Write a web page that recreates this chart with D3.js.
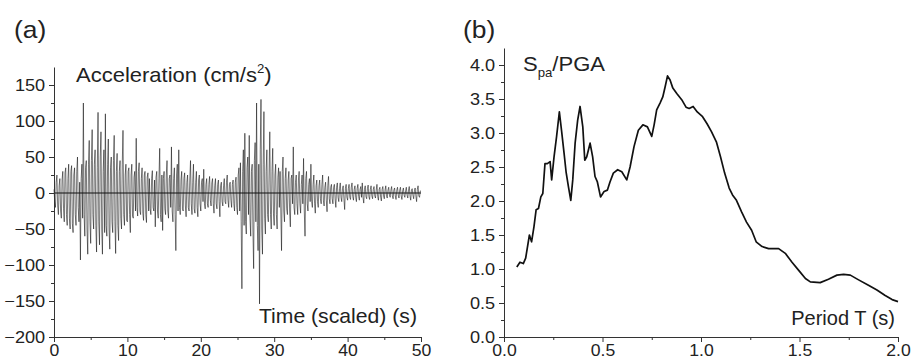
<!DOCTYPE html>
<html>
<head>
<meta charset="utf-8">
<script src="https://cdn.jsdelivr.net/npm/d3@7"></script>
<style>
  body { margin: 0; background: #fff; }
  svg { display: block; font-family: "Liberation Sans", Arial, sans-serif; }
  .axis path, .axis line { stroke: #333; }
  .axis text { fill: #222; font-size: 16.5px; font-family: "Liberation Sans", Arial, sans-serif; }
</style>
</head>
<body>
<div id="chart"></div>
<script>
// (a) accelerogram, sampled every 0.1 s, one row = 1 s
const accStep = 0.1;
const accValues = [
  5, -12, -20, 15, 25, -18, -30, 10, 20, -25,
  -35, 18, 30, -22, -40, 28, 35, -30, -45, 20,
  40, -35, -50, 30, 38, -42, -55, 25, 35, -30,
  -45, 30, 50, -20, -40, 15, -93, 20, 40, -35,
  125, -30, -60, 35, 45, -50, -85, 40, 73, -40,
  -70, 45, 88, -30, -50, 40, 60, -45, -82, 35,
  112, -40, -72, 50, 85, -50, -85, 30, 60, -55,
  110, -45, -60, 40, 75, -50, -78, 35, 50, -40,
  -55, 45, 80, -40, -84, 30, 55, -45, -66, 30,
  45, -35, -50, 40, 87, -30, -45, 25, 40, -38,
  -40, 30, 35, -30, -55, 25, 40, -32, -35, 22,
  30, -25, 76, -20, -32, 30, 42, -25, -30, 20,
  35, -28, -38, 25, 30, -30, -41, 22, 28, -25,
  20, -22, -30, 20, 31, -20, -25, 18, -47, 22,
  30, -25, -35, 20, 62, -30, -40, 25, -52, 20,
  30, -22, -30, 25, 45, -25, -35, 20, 25, -20,
  64, -25, -40, 20, 35, -30, -80, 25, 40, -25,
  60, -20, -30, 18, 30, -22, -25, 20, 28, -18,
  -33, 15, 25, -20, -25, 18, 45, -15, -30, 15,
  40, -22, -28, 15, 30, -20, -33, 18, 25, -15,
  -25, 15, 20, -12, 33, -15, -22, 12, 20, -15,
  -20, 12, 23, -10, -18, 14, 20, -15, -28, 10,
  20, -15, -22, 12, 18, -12, -33, 10, 15, -12,
  -18, 10, 20, -12, -15, 15, 25, -10, -20, 12,
  15, -10, -20, 12, 18, -15, -25, 15, 22, -20,
  -30, 25, 35, -25, 42, -40, -133, 30, 60, -45,
  83, -40, -57, 35, 50, -30, 80, -35, -60, 30,
  40, -50, -105, 45, 70, -40, 125, -45, -80, 40,
  -154, 60, 130, -50, -85, 40, 113, -35, -57, 30,
  60, -30, -40, 25, 85, -30, -50, 30, 62, -28,
  -45, 25, 40, -30, -50, 22, 35, -20, 30, -25,
  -80, 30, 50, -25, -40, 20, 35, -22, -30, 18,
  30, -25, -47, 20, 25, -15, 64, -20, -30, 15,
  25, -15, -30, 18, 30, -15, -28, 12, 25, -15,
  48, -25, -60, 20, 30, -15, -25, 12, 20, -12,
  40, -12, -20, 12, 25, -15, -28, 10, 18, -12,
  -20, 10, 18, -8, -15, 12, 25, -10, -18, 8,
  15, -10, -26, 10, 23, -8, -15, 8, 12, -8,
  -15, 8, 12, -8, -20, 8, 14, -6, -12, 6,
  14, -6, -12, 6, 10, -8, -23, 6, 12, -6,
  -10, 6, 12, -6, -9, 8, 14, -5, -10, 5,
  10, -6, -12, 6, 12, -5, -10, 5, 9, -6,
  14, -6, -14, 5, 10, -5, -8, 6, 11, -5,
  -9, 5, 10, -4, -8, 5, 9, -4, -7, 4,
  12, -5, -10, 5, 8, -6, -11, 5, 9, -4,
  -8, 4, 10, -4, -7, 4, 8, -3, -6, 4,
  9, -4, -8, 4, 7, -4, -9, 4, 8, -3,
  -7, 4, 8, -4, -9, 3, 7, -3, -6, 3,
  8, -3, -7, 4, 9, -4, -10, 4, 6, -3,
  -8, 3, 7, -4, -12, 5, 10, -4, -6, 3,
  2
];
const accTicks = [-200, -150, -100, -50, 0, 50, 100, 150];
const timeTicks = [0, 10, 20, 30, 40, 50];

// (b) normalised response spectrum
const periods = [0.065, 0.081, 0.098, 0.11, 0.129, 0.14, 0.152, 0.163, 0.175, 0.187,
  0.197, 0.208, 0.22, 0.234, 0.242, 0.254, 0.267, 0.281, 0.292, 0.305,
  0.315, 0.327, 0.339, 0.349, 0.361, 0.374, 0.386, 0.4, 0.41, 0.42,
  0.437, 0.45, 0.462, 0.474, 0.49, 0.508, 0.525, 0.538, 0.555, 0.577,
  0.598, 0.623, 0.64, 0.66, 0.682, 0.705, 0.728, 0.75, 0.762, 0.775,
  0.792, 0.806, 0.818, 0.83, 0.843, 0.857, 0.877, 0.902, 0.924, 0.94,
  0.96, 0.981, 1.008, 1.03, 1.053, 1.078, 1.099, 1.12, 1.143, 1.16,
  1.18, 1.206, 1.231, 1.257, 1.28, 1.31, 1.343, 1.394, 1.428, 1.462,
  1.496, 1.53, 1.555, 1.605, 1.647, 1.69, 1.724, 1.758, 1.8, 1.85,
  1.893, 1.935, 1.97, 2.0];
const spaRatio = [1.03, 1.10, 1.08, 1.16, 1.50, 1.40, 1.62, 1.87, 1.89, 2.06,
  2.11, 2.55, 2.55, 2.58, 2.31, 2.65, 2.95, 3.31, 3.04, 2.70,
  2.43, 2.21, 2.01, 2.31, 2.85, 3.19, 3.39, 3.09, 2.60, 2.65,
  2.85, 2.65, 2.36, 2.28, 2.06, 2.14, 2.16, 2.28, 2.41, 2.46,
  2.43, 2.31, 2.50, 2.80, 3.04, 3.12, 3.09, 2.95, 3.12, 3.34,
  3.44, 3.53, 3.68, 3.84, 3.78, 3.66, 3.58, 3.49, 3.38, 3.36,
  3.39, 3.31, 3.24, 3.14, 3.02, 2.87, 2.65, 2.41, 2.19, 2.09,
  2.01, 1.84, 1.69, 1.57, 1.40, 1.33, 1.30, 1.30, 1.23, 1.10,
  0.98, 0.86, 0.81, 0.80, 0.85, 0.91, 0.92, 0.91, 0.84, 0.76,
  0.69, 0.61, 0.55, 0.52];
const spaTicks = [0, 0.5, 1, 1.5, 2, 2.5, 3, 3.5, 4];
const periodTicks = [0, 0.5, 1, 1.5, 2];

const width = 912;
const height = 363;
const stretch = 'scale(1.1,1)';

const svg = d3.select('#chart').append('svg')
  .attr('width', width)
  .attr('height', height);

function drawAxes(g, x, y, xTicks, xMinor, yTicks, yMinor, xFmt, yFmt) {
  const [y0] = y.range();
  const [x0] = x.range();
  g.append('g').attr('class', 'axis')
    .attr('transform', `translate(0,${y0})`)
    .call(d3.axisBottom(x).tickValues(xMinor).tickSize(3).tickFormat(''))
    .call(a => a.select('.domain').remove());
  g.append('g').attr('class', 'axis')
    .attr('transform', `translate(${x0},0)`)
    .call(d3.axisLeft(y).tickValues(yMinor).tickSize(3).tickFormat(''))
    .call(a => a.select('.domain').remove());
  // bottom labels sit low, almost on the picture edge as in the source
  g.append('g').attr('class', 'axis')
    .attr('transform', `translate(0,${y0})`)
    .call(d3.axisBottom(x).tickValues(xTicks).tickSize(5).tickSizeOuter(0).tickPadding(2).tickFormat(xFmt))
    .call(a => a.selectAll('text').attr('dy', '0.74em').style('font-size', '16px').attr('transform', stretch));
  g.append('g').attr('class', 'axis')
    .attr('transform', `translate(${x0},0)`)
    .call(d3.axisLeft(y).tickValues(yTicks).tickSize(5).tickSizeOuter(0).tickPadding(3).tickFormat(yFmt))
    .call(a => a.selectAll('text').attr('transform', stretch));
}

// text placed at (x, y) and widened a little, like the source figure
function label(g, x, y, size, anchor, sx) {
  return g.append('text')
    .attr('transform', `translate(${x},${y}) scale(${sx || 1.1},1)`)
    .attr('text-anchor', anchor || 'start')
    .attr('font-size', size)
    .attr('fill', '#222');
}

// ---- panel (a)
const xa = d3.scaleLinear().domain([0, 50]).range([54, 421]);
const ya = d3.scaleLinear().domain([-200, 175]).range([337, 67]);
const ga = svg.append('g');

ga.append('line')
  .attr('x1', xa(0)).attr('x2', xa(50))
  .attr('y1', ya(0)).attr('y2', ya(0))
  .attr('stroke', '#111').attr('stroke-width', 1.2);

ga.append('path')
  .datum(accValues)
  .attr('fill', 'none')
  .attr('stroke', '#111')
  .attr('stroke-opacity', 0.8)
  .attr('stroke-width', 0.7)
  .attr('d', d3.line().x((d, i) => xa(i * accStep)).y(d => ya(d)));

drawAxes(ga, xa, ya, timeTicks, d3.range(5, 50, 10), accTicks, d3.range(-175, 175, 50),
  d3.format('d'), d3.format('d'));

label(ga, 14, 38, 24).text('(a)');

const accLabel = label(ga, 76, 82, 20);
accLabel.append('tspan').text('Acceleration (cm/s');
accLabel.append('tspan').attr('dy', -9).attr('font-size', 12).text('2');
accLabel.append('tspan').attr('dy', 9).text(')');

label(ga, 417, 323, 20, 'end', 1.06).text('Time (scaled) (s)');

// ---- panel (b)
const xb = d3.scaleLinear().domain([0, 2]).range([504, 898]);
const yb = d3.scaleLinear().domain([0, 4.25]).range([337, 48]);
const gb = svg.append('g');

gb.append('path')
  .datum(periods.map((p, i) => [p, spaRatio[i]]))
  .attr('fill', 'none')
  .attr('stroke', '#111')
  .attr('stroke-width', 1.7)
  .attr('stroke-linejoin', 'round')
  .attr('d', d3.line().x(d => xb(d[0])).y(d => yb(d[1])));

drawAxes(gb, xb, yb, periodTicks, [0.25, 0.75, 1.25, 1.75], spaTicks, d3.range(0.25, 4.25, 0.5),
  d3.format('.1f'), d3.format('.1f'));

label(gb, 463, 38, 24).text('(b)');

const spaLabel = label(gb, 523, 71, 20);
spaLabel.append('tspan').text('S');
spaLabel.append('tspan').attr('dy', 6).attr('font-size', 12).text('pa');
spaLabel.append('tspan').attr('dy', -6).text('/PGA');

label(gb, 895, 325, 20, 'end', 1.0).text('Period T (s)');
</script>
</body>
</html>
